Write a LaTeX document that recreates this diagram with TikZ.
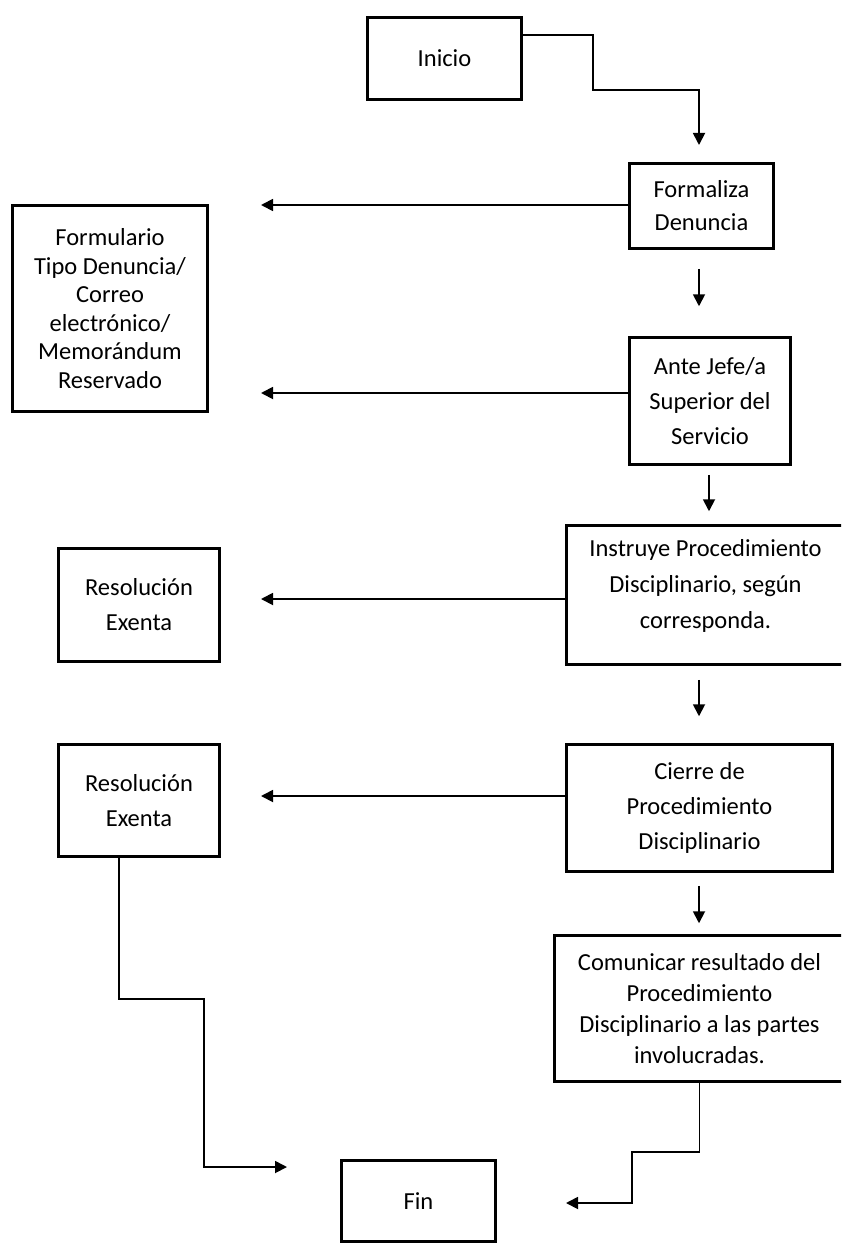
\documentclass[tikz,border=0pt]{standalone}
\usepackage{fontspec}
\setmainfont{Carlito}
\usetikzlibrary{arrows.meta}

\tikzset{
  box/.style={draw, line width=3.5pt, align=center, inner sep=0pt,
              font=\fontsize{24.5}{35}\selectfont},
  boxtext/.style={align=center, inner sep=0pt, font=\fontsize{24.5}{#1}\selectfont},
  flow/.style={line width=1.8pt, -{Triangle[length=12pt,width=12pt]}}
}

\begin{document}
\begin{tikzpicture}[x=1pt, y=-1pt]

 \useasboundingbox (0,0) rectangle (841,1244);
 \clip (0,0) rectangle (841,1244);

 % main column
 \node[box, minimum width=154, minimum height=82] (inicio) at (444.5,58.5) {Inicio};
 \node[box, minimum width=144, minimum height=85, font=\fontsize{24.5}{33}\selectfont] (formaliza) at (701.5,206) {Formaliza\\Denuncia};
 \node[box, minimum width=161, minimum height=127] (ante) at (710,401) {Ante Jefe/a\\Superior del\\Servicio};
 \node[box, minimum width=278, minimum height=139,
       label={[boxtext=36, yshift=9pt]center:Instruye Procedimiento\\Disciplinario, según\\corresponda.}] (instruye) at (705.5,595) {};
 \node[box, minimum width=266, minimum height=127] (cierre) at (699.5,808) {Cierre de\\Procedimiento\\Disciplinario};
 \node[box, minimum width=290, minimum height=146, font=\fontsize{24.5}{31}\selectfont] (comunicar) at (699.5,1008.5) {Comunicar resultado del\\Procedimiento\\Disciplinario a las partes\\involucradas.};
 \node[box, minimum width=154, minimum height=81] (fin) at (418.5,1201) {Fin};

 % documents
 \node[box, minimum width=195, minimum height=206, font=\fontsize{24.5}{28.5}\selectfont] (formulario) at (110,308.5) {Formulario\\Tipo Denuncia/\\Correo\\electrónico/\\Memorándum\\Reservado};
 \node[box, minimum width=161, minimum height=113] (resolA) at (139,605) {Resolución\\Exenta};
 \node[box, minimum width=161, minimum height=112] (resolB) at (139,800.5) {Resolución\\Exenta};

 % free ends
 \coordinate (c1) at (593,90);
 \coordinate (t1) at (699,145);
 \coordinate (t2) at (261,205);
 \coordinate (t3) at (261,393);
 \coordinate (t4) at (261,599);
 \coordinate (t5) at (261,796);
 \coordinate (k1) at (632,1152);
 \coordinate (t6) at (566,1203);
 \coordinate (k2) at (204,999);
 \coordinate (t7) at (287,1167);

 % lines
 \draw[flow] ([yshift=23.5pt]inicio.east) -| (c1) -| (t1);

 \foreach \a/\b/\x/\s/\e in {formaliza/ante/699/18.5/29.5, ante/instruye/709/8.5/12.5,
                             instruye/cierre/699/13.5/26.5, cierre/comunicar/699/12.5/10.5}
   \draw[flow, shorten <=\s pt, shorten >=\e pt] (\a.south -| \x,0) -- (\b.north -| \x,0);

 \foreach \src/\tip in {formaliza/t2, ante/t3, instruye/t4, cierre/t5}
   \draw[flow] (\tip -| \src.west) -- (\tip);

 \draw[flow] (comunicar.south) |- (k1) |- (t6);
 \draw[flow] (resolB.south -| 119,0) |- (k2) |- (t7);

\end{tikzpicture}
\end{document}
